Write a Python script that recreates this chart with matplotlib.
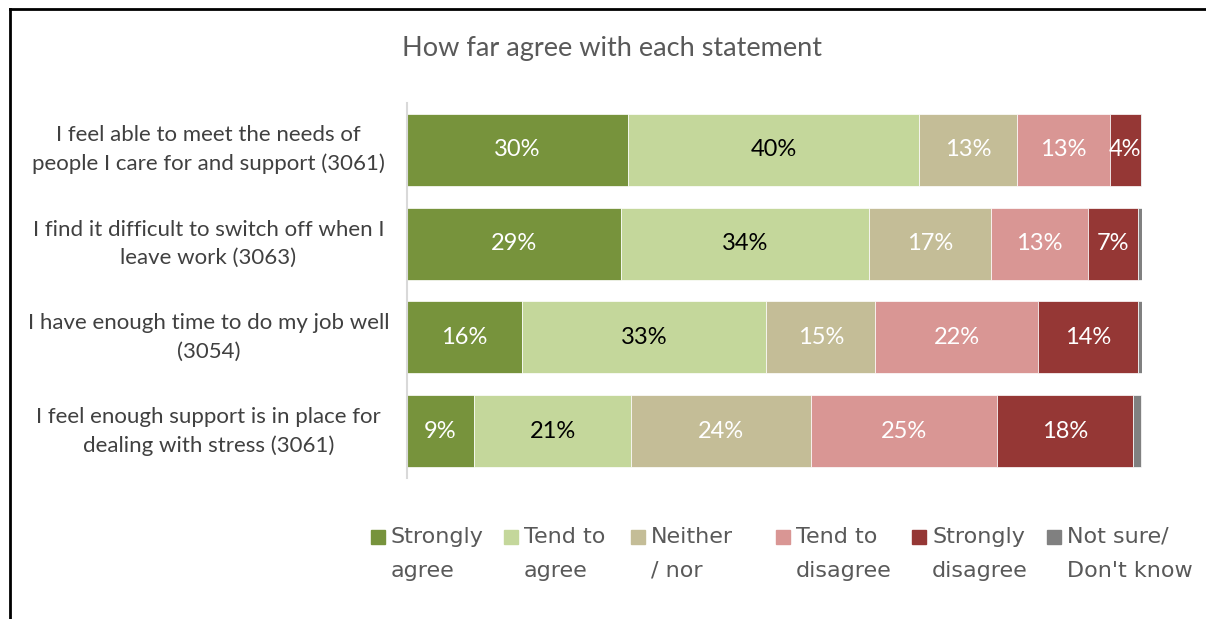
import matplotlib.pyplot as plt
from matplotlib.patches import Rectangle
from matplotlib.lines import Line2D

# survey results, percent of respondents per statement
statements = [
    "I feel able to meet the needs of\npeople I care for and support (3061)",
    "I find it difficult to switch off when I\nleave work (3063)",
    "I have enough time to do my job well\n(3054)",
    "I feel enough support is in place for\ndealing with stress (3061)",
]
strongly_agree = [30.1, 29.1, 15.6, 9.1]
tend_agree = [39.6, 33.7, 33.3, 21.4]
neither = [13.3, 16.6, 14.8, 24.4]
tend_disagree = [12.6, 13.3, 22.2, 25.4]
strongly_disagree = [4.2, 6.8, 13.6, 18.4]
not_sure = [0.2, 0.6, 0.5, 1.2]

series_names = ["Strongly\nagree", "Tend to\nagree", "Neither\n/ nor",
                "Tend to\ndisagree", "Strongly\ndisagree", "Not sure/\nDon't know"]
series = [strongly_agree, tend_agree, neither, tend_disagree, strongly_disagree, not_sure]
colors = ["#77933C", "#C4D79B", "#C4BD97", "#D99694", "#953735", "#808080"]
label_colors = ["white", "black", "white", "white", "white", None]

plt.rcParams['font.family'] = ['Lato', 'DejaVu Sans']

fig = plt.figure(figsize=(12.06, 6.19), dpi=100)
ax = fig.add_axes([0.3375, 0.2278, 0.6095, 0.6058])

y = list(range(len(statements)))
left = [0.0] * len(statements)
for vals, col, lcol in zip(series, colors, label_colors):
    bars = ax.barh(y, vals, left=left, height=0.77, color=col,
                   edgecolor="white", linewidth=0.5)
    if lcol is not None:
        ax.bar_label(bars, labels=[f"{v:.0f}%" for v in vals],
                     label_type="center", color=lcol, fontsize=17)
    left = [a + b for a, b in zip(left, vals)]

ax.set_xlim(0, 100)
ax.set_ylim(len(statements) - 0.5, -0.5)
ax.set_xticks([])
ax.set_yticks(y)
ax.set_yticklabels(statements, fontsize=16, color="#404040", ha="center",
                   va="center", linespacing=1.5)
ax.tick_params(axis="y", length=0, pad=143)
for s in ["top", "right", "bottom"]:
    ax.spines[s].set_visible(False)
ax.spines["left"].set_color("#D9D9D9")
ax.spines["left"].set_linewidth(1.5)

fig.text(0.5075, 0.922, "How far agree with each statement", ha="center",
         va="center", fontsize=19.5, color="#595959")

# legend drawn by hand so the swatch sits beside the first line
leg_x = [371, 504, 631, 776, 912, 1047]
W, H = 1206, 619
for name, col, x in zip(series_names, colors, leg_x):
    fig.add_artist(Rectangle((x / W, 1 - 544 / H), 14 / W, 14 / H,
                             transform=fig.transFigure, color=col))
    fig.text((x + 20) / W, 1 - 527 / H, name, ha="left", va="top",
             fontsize=16, color="#595959", linespacing=1.85,
             family=["Liberation Sans Narrow", "DejaVu Sans"])

# outer frame, left and top edges
fig.add_artist(Line2D([10 / W, 10 / W], [0, 1 - 9 / H], transform=fig.transFigure,
                      color="black", linewidth=2))
fig.add_artist(Line2D([10 / W, 1], [1 - 9 / H, 1 - 9 / H], transform=fig.transFigure,
                      color="black", linewidth=2))

fig.savefig("out.png", dpi=100)
